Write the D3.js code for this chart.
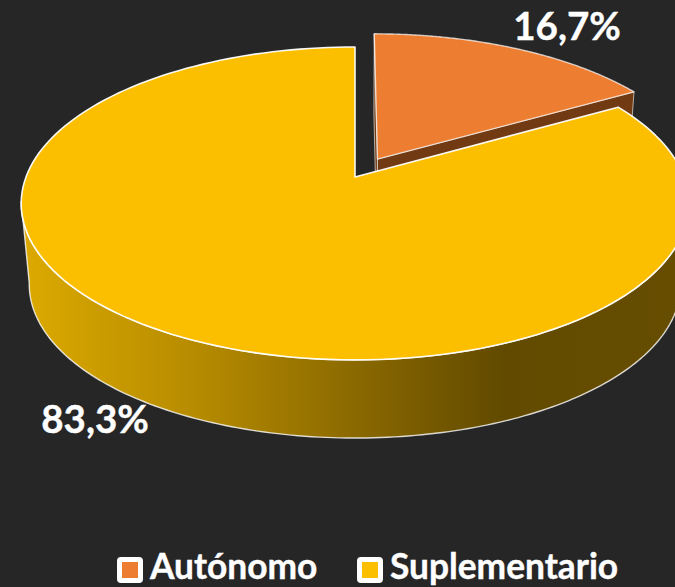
<!DOCTYPE html>
<html>
<head>
<meta charset="utf-8" />
<title>pie 3d</title>
<style>
* {
    padding: 0;
    margin: 0;
}
body {
    background: #262626;
    overflow: hidden;
}
text {
    font-family: Lato, "Open Sans", sans-serif;
    font-weight: 700;
    fill: #fff;
    stroke: #fff;
    stroke-width: 0.4;
}
</style>
</head>
<body>
<div id="graph"></div>
<script src="https://cdn.jsdelivr.net/npm/d3@7"></script>
<script>
    var categories = ["Autónomo", "Suplementario"]
    var values = [16.7, 83.3]
    var labels = ["16,7%", "83,3%"]
    var colors = ["#ed7d31", "#fcbf00"]
    var faceColors = ["#713a12", "#5f4800"]

    var width = 675, height = 587
    var svg = d3.select("#graph").append("svg")
        .attr("width", width).attr("height", height).style("display", "block")

    // fake 3d: unit circle in the plane, pushed through a perspective transform
    var cx = 355, cy = 177
    var rx = 329, ry = 152
    var tilt = -0.169, depth = 89.2, depthX = 0.024, depthY = 0.093
    var explode = 0.139

    function project(u, v, z) {
        var w = 1 + tilt * v
        return [cx + rx * u / (w + depthX * z), cy + (ry * v + depth * z) / (w + depthY * z)]
    }

    var arcs = d3.pie().sort(null).value(function(d) { return d })(values)
    var line = d3.line()

    // exploded centre of a slice; the big one stays at the origin of the transform
    function centre(i) {
        if (i == 1) return [0, 0]
        var mid = (arcs[i].startAngle + arcs[i].endAngle) / 2
        return [explode * Math.sin(mid), -explode * Math.cos(mid)]
    }

    function rim(i, z, a0, a1) {
        var c = centre(i), pts = []
        for (var k = 0; k <= 160; k++) {
            var a = a0 + (a1 - a0) * k / 160
            pts.push(project(c[0] + Math.sin(a), c[1] - Math.cos(a), z))
        }
        return pts
    }

    function topPath(i) {
        var c = centre(i)
        var apex = project(c[0], c[1], 0)
        return line([apex].concat(rim(i, 0, arcs[i].startAngle, arcs[i].endAngle))) + "Z"
    }

    function wallPath(i, a0, a1) {
        return line(rim(i, 0, a0, a1).concat(rim(i, 1, a0, a1).reverse())) + "Z"
    }

    function facePath(i, a) {
        var c = centre(i)
        var e = rim(i, 0, a, a)[0], f = rim(i, 1, a, a)[0]
        return line([project(c[0], c[1], 0), e, f, project(c[0], c[1], 1)]) + "Z"
    }

    var defs = svg.append("defs")
    var grad = defs.append("linearGradient").attr("id", "wall")
        .attr("gradientUnits", "userSpaceOnUse")
        .attr("x1", 21).attr("x2", 690).attr("y1", 0).attr("y2", 0)
    grad.selectAll("stop")
        .data([[0, "#dcaa00"], [0.27, "#b58a00"], [0.5, "#8a6900"], [0.72, "#624a00"], [1, "#664d00"]])
        .enter().append("stop")
        .attr("offset", function(d) { return d[0] })
        .attr("stop-color", function(d) { return d[1] })

    var pie = svg.append("g")
        .attr("stroke", "#fff").attr("stroke-linejoin", "round")

    // orange slice: cut faces first, then the lid
    pie.append("path").attr("d", facePath(0, arcs[0].endAngle))
        .attr("fill", faceColors[0]).attr("stroke-opacity", 0.6)
    pie.append("path").attr("d", facePath(0, arcs[0].startAngle))
        .attr("fill", faceColors[0]).attr("stroke-opacity", 0.6)
    pie.append("path").attr("d", topPath(0))
        .attr("fill", colors[0]).attr("stroke-opacity", 0.7).attr("stroke-width", 1.4)

    // yellow slice wall runs round the front, tangent to the lid at both ends
    pie.append("path").attr("d", wallPath(1, Math.PI * 0.53, Math.PI * 1.45))
        .attr("fill", "url(#wall)").attr("stroke-opacity", 0.8).attr("stroke-width", 1.4)
    pie.append("path").attr("d", topPath(1))
        .attr("fill", colors[1]).attr("stroke-opacity", 0.95).attr("stroke-width", 1.6)

    // data labels
    svg.append("g").selectAll("text")
        .data(labels)
        .enter().append("text")
        .attr("x", function(d, i) { return i == 0 ? 567 : 95 })
        .attr("y", function(d, i) { return i == 0 ? 40 : 433 })
        .attr("text-anchor", "middle")
        .attr("font-size", 38.5)
        .text(function(d) { return d })

    // legend
    var legendX = [117, 357]
    var legend = svg.append("g").selectAll("g")
        .data(categories)
        .enter().append("g")
        .attr("transform", function(d, i) { return "translate(" + legendX[i] + ",557)" })
    legend.append("rect")
        .attr("x", 2.5).attr("y", 2.5)
        .attr("width", 21).attr("height", 21).attr("rx", 1.5)
        .attr("fill", function(d, i) { return colors[i] })
        .attr("stroke", "#fff").attr("stroke-width", 5)
    legend.append("text")
        .attr("x", 33).attr("y", 22)
        .attr("font-size", 35.3)
        .text(function(d) { return d })
</script>
</body>
</html>
